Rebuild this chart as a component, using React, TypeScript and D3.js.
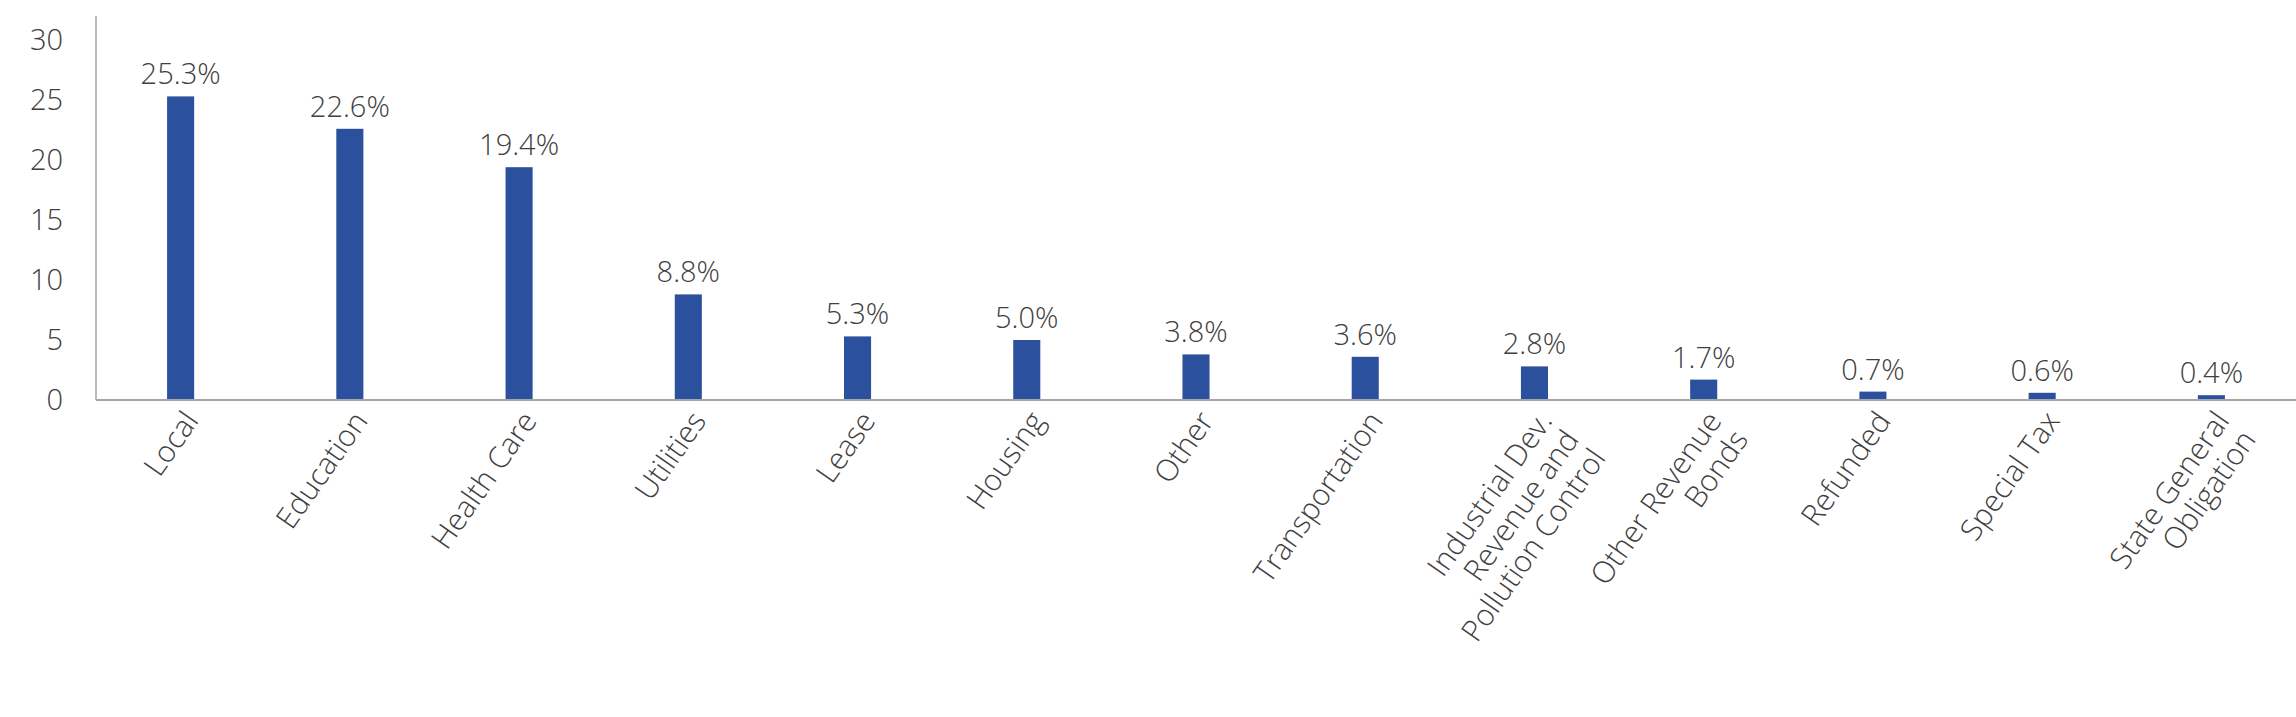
import React from "react";
import * as d3 from "d3";

const categories: string[] = [
  "Local",
  "Education",
  "Health Care",
  "Utilities",
  "Lease",
  "Housing",
  "Other",
  "Transportation",
  "Industrial Dev.\nRevenue and\nPollution Control",
  "Other Revenue\nBonds",
  "Refunded",
  "Special Tax",
  "State General\nObligation",
];
const values: number[] = [25.3, 22.6, 19.4, 8.8, 5.3, 5.0, 3.8, 3.6, 2.8, 1.7, 0.7, 0.6, 0.4];
const yTicks: number[] = [0, 5, 10, 15, 20, 25, 30];

const W = 2296;
const H = 717;
const FONT = "'Open Sans', 'Noto Sans', sans-serif";
const TEXT = "#404040";
const BAR = "#2B519E";
const AXIS = "#A6A6A6";

export default function App() {
  const x = d3
    .scaleBand<string>()
    .domain(categories)
    .range([96, W])
    .paddingInner(0.84)
    .paddingOuter(0.42);
  const y = d3.scaleLinear().domain([0, 32]).range([400, 16]);
  const fmt = d3.format(".1f");
  const lh = 32.5;

  return (
    <svg
      width={W}
      height={H}
      style={{ position: "absolute", left: 0, top: 0, background: "#fff" }}
      fontFamily={FONT}
    >
      <rect x={0} y={0} width={W} height={H} fill="#fff" />
      {/* y tick labels */}
      {yTicks.map((t) => (
        <text
          key={t}
          x={63}
          y={y(t)}
          dy="0.36em"
          textAnchor="end"
          fontSize={29}
          fontWeight={300}
          fill={TEXT}
        >
          {t}
        </text>
      ))}
      {/* bars */}
      {categories.map((c, i) => (
        <rect
          key={c}
          x={x(c)!}
          y={y(values[i])}
          width={x.bandwidth()}
          height={y(0) - y(values[i])}
          fill={BAR}
        />
      ))}
      {/* value labels */}
      {categories.map((c, i) => (
        <text
          key={"v" + c}
          x={x(c)! + x.bandwidth() / 2}
          y={y(values[i]) - 12}
          textAnchor="middle"
          fontSize={29}
          fontWeight={300}
          fill={TEXT}
        >
          {fmt(values[i]) + "%"}
        </text>
      ))}
      {/* axes */}
      <line x1={96} x2={96} y1={y.range()[1]} y2={y(0)} stroke={AXIS} strokeWidth={1.5} />
      <line x1={96} x2={W} y1={y(0)} y2={y(0)} stroke={AXIS} strokeWidth={2} />
      {/* category labels */}
      {categories.map((c) => {
        const cx = x(c)! + x.bandwidth() / 2;
        const lines = c.split("\n");
        return (
          <g key={"c" + c} transform={`translate(${cx + 19},${y(0) + 21}) rotate(-55)`}>
            {lines.map((ln, j) => (
              <text
                key={j}
                x={0}
                y={j * lh}
                textAnchor="end"
                fontSize={30}
                fontWeight={300}
                fill={TEXT}
              >
                {ln}
              </text>
            ))}
          </g>
        );
      })}
    </svg>
  );
}
